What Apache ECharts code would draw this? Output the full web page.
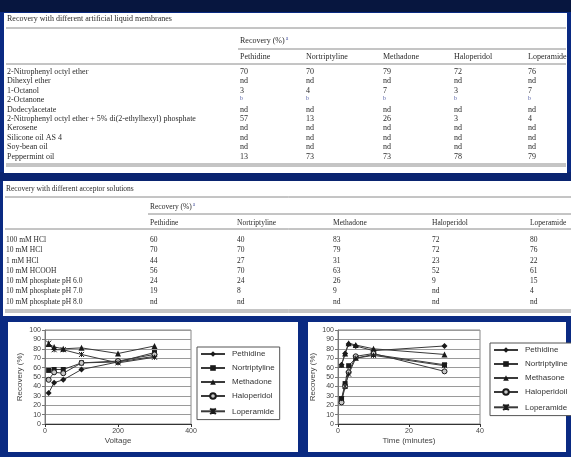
<!DOCTYPE html>
<html>
<head>
<meta charset="utf-8">
<script src="https://cdn.jsdelivr.net/npm/echarts@6/dist/echarts.min.js"></script>
<style>
  html, body { margin: 0; padding: 0; background: #0a2a82; }
  #chart { width: 571px; height: 457px; }
</style>
</head>
<body>
<div id="chart"></div>
<script>
// ---- Table 1: recovery with different artificial liquid membranes ----
const membraneTitle = 'Recovery with different artificial liquid membranes';
const drugs = ['Pethidine', 'Nortriptyline', 'Methadone', 'Haloperidol', 'Loperamide'];
const membranes = [
  '2-Nitrophenyl octyl ether',
  'Dihexyl ether',
  '1-Octanol',
  '2-Octanone',
  'Dodecylacetate',
  '2-Nitrophenyl octyl ether + 5% di(2-ethylhexyl) phosphate',
  'Kerosene',
  'Silicone oil AS 4',
  'Soy-bean oil',
  'Peppermint oil'
];
const membraneRecovery = [
  ['70', '70', '79', '72', '76'],
  ['nd', 'nd', 'nd', 'nd', 'nd'],
  ['3', '4', '7', '3', '7'],
  ['b', 'b', 'b', 'b', 'b'],
  ['nd', 'nd', 'nd', 'nd', 'nd'],
  ['57', '13', '26', '3', '4'],
  ['nd', 'nd', 'nd', 'nd', 'nd'],
  ['nd', 'nd', 'nd', 'nd', 'nd'],
  ['nd', 'nd', 'nd', 'nd', 'nd'],
  ['13', '73', '73', '78', '79']
];

// ---- Table 2: recovery with different acceptor solutions ----
const acceptorTitle = 'Recovery with different acceptor solutions';
const acceptors = [
  '100 mM HCl',
  '10 mM HCl',
  '1 mM HCl',
  '10 mM HCOOH',
  '10 mM phosphate pH 6.0',
  '10 mM phosphate pH 7.0',
  '10 mM phosphate pH 8.0'
];
const acceptorRecovery = [
  ['60', '40', '83', '72', '80'],
  ['70', '70', '79', '72', '76'],
  ['44', '27', '31', '23', '22'],
  ['56', '70', '63', '52', '61'],
  ['24', '24', '26', '9', '15'],
  ['19', '8', '9', 'nd', '4'],
  ['nd', 'nd', 'nd', 'nd', 'nd']
];

// ---- Chart 1: recovery vs. voltage ----
const voltage = [10, 25, 50, 100, 200, 300];
const voltageNames = ['Pethidine', 'Nortriptyline', 'Methadone', 'Haloperidol', 'Loperamide'];
const pethidineByVoltage     = [33, 44, 47, 58, 66, 72];
const nortriptylineByVoltage = [57, 58, 58, 65, 66, 76];
const methadoneByVoltage     = [85, 82, 80, 81, 75, 83];
const haloperidolByVoltage   = [47, 55, 54, 65, 67, 74];
const loperamideByVoltage    = [86, 79, 79, 74, 65, 71];

// ---- Chart 2: recovery vs. extraction time ----
const time = [1, 2, 3, 5, 10, 30];
const timeNames = ['Pethidine', 'Nortriptyline', 'Methasone', 'Haloperidoil', 'Loperamide'];
const pethidineByTime     = [63, 75, 85, 83, 78, 83];
const nortriptylineByTime = [27, 43, 62, 70, 74, 63];
const methasoneByTime     = [63, 75, 86, 84, 80, 74];
const haloperidolByTime   = [23, 40, 55, 72, 75, 56];
const loperamideByTime    = [27, 40, 53, 70, 73, 62];

const yTicks = { min: 0, max: 100, interval: 10 };

// ---------------------------------------------------------------
const SERIF = '"Liberation Serif", "DejaVu Serif", serif';
const SANS = '"Liberation Sans", Arial, sans-serif';
const INK = '#2a2a2a';
const NOTE = '#4a56a0';
const RULE = '#8a8a8a';

const measureCtx = document.createElement('canvas').getContext('2d');
function textWidth(s, size) {
  measureCtx.font = size + 'px ' + SERIF;
  return measureCtx.measureText(s).width;
}

const graphics = [];

function rect(x, y, w, h, fill, z) {
  graphics.push({ type: 'rect', z: z, shape: { x: x, y: y, width: w, height: h }, style: { fill: fill } });
}
function rule(x1, x2, y, w) {
  graphics.push({ type: 'line', z: 1, shape: { x1: x1, y1: y, x2: x2, y2: y },
    style: { stroke: RULE, lineWidth: w || 1 } });
}
function text(x, y, s, size, color, family) {
  graphics.push({ type: 'text', z: 2, x: x, y: y,
    style: { text: s, fontSize: size, fontFamily: family || SERIF, fill: color || INK, verticalAlign: 'middle' } });
}

// page bands
rect(0, 0, 571, 12, '#07163f', -20);
rect(0, 172, 571, 9, '#0a2470', -20);

// table builder
function buildTable(cfg) {
  rect(cfg.x, cfg.y, cfg.w, cfg.h, '#ffffff', -10);
  const xl = cfg.x + 2, xr = cfg.x + cfg.w - 1;
  text(cfg.x + 3, cfg.titleY, cfg.title, cfg.size);
  rule(xl, xr, cfg.titleRuleY, 1);
  const group = 'Recovery (%)';
  text(cfg.cols[0], cfg.groupY, group, cfg.size);
  text(cfg.cols[0] + textWidth(group, cfg.size) + 1, cfg.groupY - 2, 'a', cfg.size * 0.7, NOTE);
  rule(cfg.cols[0] - 2, xr, cfg.groupRuleY, 1);
  cfg.headers.forEach(function (h, i) { text(cfg.cols[i], cfg.headerY, h, cfg.size); });
  rule(xl, xr, cfg.headerRuleY, 1);
  cfg.rows.forEach(function (r, j) {
    const y = cfg.rowY + cfg.rowStep * j;
    text(cfg.x + 3, y, r, cfg.size);
    cfg.values[j].forEach(function (v, i) {
      if (v === 'b') text(cfg.cols[i], y - 2, v, cfg.size * 0.7, NOTE);
      else text(cfg.cols[i], y, v, cfg.size);
    });
  });
  rule(xl, xr, cfg.bottomY, 1);
  rule(xl, xr, cfg.bottomY + 2, 1);
}

buildTable({
  x: 4, y: 13, w: 563, h: 160, size: 8,
  title: membraneTitle, titleY: 19, titleRuleY: 28,
  groupY: 41, groupRuleY: 49, headerY: 57, headerRuleY: 64,
  headers: drugs, cols: [240, 306, 383, 454, 528],
  rows: membranes, values: membraneRecovery, rowY: 72, rowStep: 9.4,
  bottomY: 164
});

buildTable({
  x: 3, y: 181, w: 570, h: 135, size: 7.5,
  title: acceptorTitle, titleY: 189, titleRuleY: 197,
  groupY: 207, groupRuleY: 214, headerY: 223, headerRuleY: 229,
  headers: drugs, cols: [150, 237, 333, 432, 530],
  rows: acceptors, values: acceptorRecovery, rowY: 240, rowStep: 10.3,
  bottomY: 310
});

// chart panels
rect(8, 322, 290, 130, '#ffffff', -10);
rect(308, 322, 258, 130, '#ffffff', -10);

// ---------------------------------------------------------------
const asterisk = 'path://M0,0L10,10M10,0L0,10M5,0L5,10';
const markerStyles = [
  { symbol: 'diamond', symbolSize: 6, itemStyle: { color: '#1a1a1a' } },
  { symbol: 'rect', symbolSize: 5, itemStyle: { color: '#1a1a1a' } },
  { symbol: 'triangle', symbolSize: 6, itemStyle: { color: '#1a1a1a' } },
  { symbol: 'circle', symbolSize: 5, itemStyle: { color: '#c8c8c8', borderColor: '#1a1a1a', borderWidth: 1 } },
  { symbol: asterisk, symbolSize: 5, itemStyle: { color: 'none', borderColor: '#1a1a1a', borderWidth: 1 } }
];

function lineSeries(name, xs, ys, k, axis) {
  const m = markerStyles[k];
  return {
    type: 'line', name: name, xAxisIndex: axis, yAxisIndex: axis,
    data: xs.map(function (x, i) { return [x, ys[i]]; }),
    symbol: m.symbol, symbolSize: m.symbolSize, showSymbol: true,
    itemStyle: m.itemStyle,
    lineStyle: { color: '#3a3a3a', width: 1 },
    emphasis: { disabled: true },
    animation: false
  };
}

function yAxis(gridIndex) {
  return {
    type: 'value', gridIndex: gridIndex,
    min: yTicks.min, max: yTicks.max, interval: yTicks.interval,
    name: 'Recovery (%)', nameLocation: 'middle', nameGap: 21,
    nameTextStyle: { fontSize: 8, color: '#444', fontFamily: SANS },
    axisLine: { show: true, lineStyle: { color: '#777' } },
    axisTick: { show: true, length: 3, lineStyle: { color: '#777' } },
    axisLabel: { fontSize: 7, color: '#444', fontFamily: SANS, margin: 4 },
    splitLine: { show: true, lineStyle: { color: '#9a9a9a', width: 1 } }
  };
}

function xAxis(gridIndex, max, interval, name) {
  return {
    type: 'value', gridIndex: gridIndex, min: 0, max: max, interval: interval,
    name: name, nameLocation: 'middle', nameGap: 13,
    nameTextStyle: { fontSize: 8, color: '#444', fontFamily: SANS },
    axisLine: { show: true, onZero: true, lineStyle: { color: '#333' } },
    axisTick: { show: true, length: 3, lineStyle: { color: '#333' } },
    axisLabel: { fontSize: 7, color: '#444', fontFamily: SANS, margin: 4 },
    splitLine: { show: false }
  };
}

function legend(left, top, names) {
  return {
    data: names, orient: 'vertical', left: left, top: top,
    itemWidth: 24, itemHeight: 7, itemGap: 6,
    padding: [3, 5, 3, 3],
    borderColor: '#555', borderWidth: 1, borderRadius: 0,
    backgroundColor: '#fff',
    textStyle: { fontSize: 8, color: '#333', fontFamily: SANS, padding: [0, 0, 0, 2] },
    selectedMode: false
  };
}

const voltageSets = [pethidineByVoltage, nortriptylineByVoltage, methadoneByVoltage, haloperidolByVoltage, loperamideByVoltage];
const timeSets = [pethidineByTime, nortriptylineByTime, methasoneByTime, haloperidolByTime, loperamideByTime];

const series = [];
voltageSets.forEach(function (ys, k) { series.push(lineSeries(voltageNames[k], voltage, ys, k, 0)); });
timeSets.forEach(function (ys, k) { series.push(lineSeries(timeNames[k], time, ys, k, 1)); });

const chart = echarts.init(document.getElementById('chart'), null, { renderer: 'canvas' });
chart.setOption({
  backgroundColor: '#0a2a82',
  animation: false,
  grid: [
    { left: 45, top: 330, width: 146, height: 94, show: true, backgroundColor: '#fff', borderColor: '#888', borderWidth: 1 },
    { left: 338, top: 330, width: 142, height: 94, show: true, backgroundColor: '#fff', borderColor: '#888', borderWidth: 1 }
  ],
  xAxis: [xAxis(0, 400, 200, 'Voltage'), xAxis(1, 40, 20, 'Time (minutes)')],
  yAxis: [yAxis(0), yAxis(1)],
  legend: [legend(197, 347, voltageNames), legend(490, 343, timeNames)],
  graphic: graphics,
  series: series
});
</script>
</body>
</html>
